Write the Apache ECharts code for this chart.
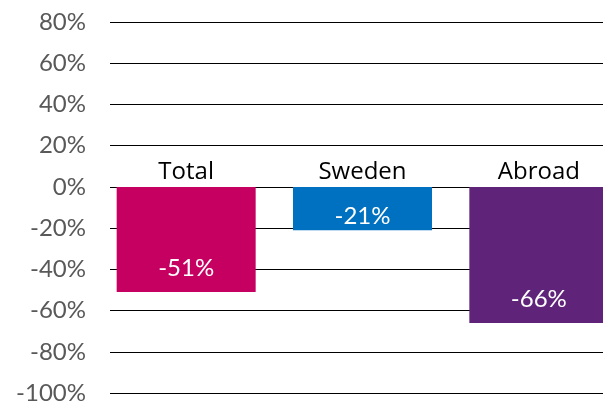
<!DOCTYPE html>
<html>
<head>
<meta charset="utf-8">
<script src="https://cdn.jsdelivr.net/npm/echarts@6/dist/echarts.min.js"></script>
<style>html,body{margin:0;padding:0;background:#fff}#c{width:603px;height:403px}</style>
</head>
<body>
<div id="c"></div>
<script>
var categories = ['Total', 'Sweden', 'Abroad'];
var values = [-51, -21, -66];
var yMin = -100, yMax = 80, yStep = 20;

var barColors = ['#C60060', '#0070C0', '#5F2479'];
var labelDistances = [12, 2, 12];

var chart = echarts.init(document.getElementById('c'), null, {renderer: 'canvas'});
var labelFont = 'Lato, "DejaVu Sans", sans-serif';
chart.setOption({
  animation: false,
  grid: [
    {left: 110, right: 0, top: 22, bottom: 10, outerBoundsMode: 'none', containLabel: false},
    {left: 98, right: -24, top: 22, bottom: 10, outerBoundsMode: 'none', containLabel: false}
  ],
  xAxis: [
    {gridIndex: 0, type: 'category', data: [''], show: false},
    {gridIndex: 1, type: 'category', data: categories, position: 'top', offset: -165,
     axisLine: {show: false, onZero: false}, axisTick: {show: false},
     axisLabel: {color: '#000', fontSize: 24, fontFamily: '"Open Sans", sans-serif', margin: 3}}
  ],
  yAxis: [
    {gridIndex: 0, type: 'value', min: yMin, max: yMax, interval: yStep,
     axisLine: {show: false}, axisTick: {show: false},
     axisLabel: {formatter: '{value}%', color: '#595959', fontSize: 24, fontFamily: labelFont, margin: 24},
     splitLine: {lineStyle: {color: '#000', width: 1}}},
    {gridIndex: 1, type: 'value', min: yMin, max: yMax, interval: yStep, show: false, splitLine: {show: false}}
  ],
  series: [{
    type: 'bar', xAxisIndex: 1, yAxisIndex: 1, barWidth: 139,
    data: values.map(function (v, i) {
      return {value: v, itemStyle: {color: barColors[i]},
              label: {distance: labelDistances[i]}};
    }),
    label: {show: true, position: 'insideBottom', color: '#fff', fontSize: 24,
            fontFamily: labelFont, formatter: function (p) { return p.value + '%'; }}
  }]
});
</script>
</body>
</html>
